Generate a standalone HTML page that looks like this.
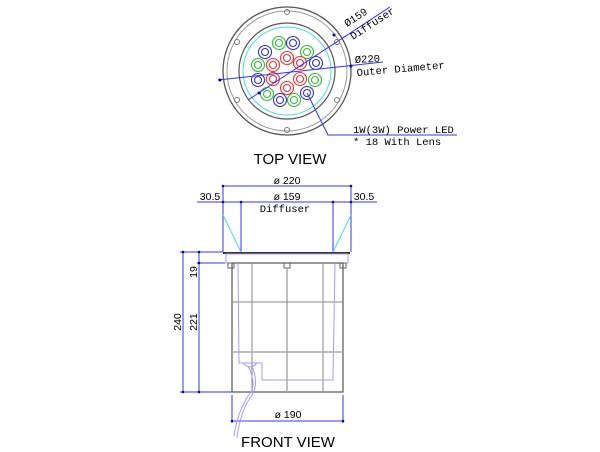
<!DOCTYPE html>
<html><head><style>html,body{margin:0;padding:0;background:#fff;}svg{display:block}</style></head><body>
<svg width="600" height="452" viewBox="0 0 600 452" xmlns="http://www.w3.org/2000/svg" font-family="'Liberation Mono', monospace">
<g fill="none">
<circle cx="287" cy="71" r="64" stroke="#555" stroke-width="1.3"/>
<circle cx="287" cy="71" r="60" stroke="#999" stroke-width="1"/>
<circle cx="287" cy="71" r="48" stroke="#555" stroke-width="1.2"/>
<circle cx="287" cy="71" r="44" stroke="#4dd" stroke-width="1"/>
<g stroke="#777" stroke-width="1">
<circle cx="287" cy="12" r="2.5"/><circle cx="287" cy="130" r="2.5"/>
<circle cx="237" cy="42" r="2.5"/><circle cx="337" cy="42" r="2.5"/>
<circle cx="237" cy="100" r="2.5"/><circle cx="337" cy="100" r="2.5"/>
</g>
<g stroke-width="1.1">
<g stroke="#33c">
<circle cx="265" cy="52" r="6.5"/><circle cx="265" cy="52" r="3.5"/>
<circle cx="293" cy="43" r="6.5"/><circle cx="293" cy="43" r="3.5"/>
<circle cx="316" cy="63" r="6.5"/><circle cx="316" cy="63" r="3.5"/>
<circle cx="258" cy="80" r="6.5"/><circle cx="258" cy="80" r="3.5"/>
<circle cx="280" cy="100" r="6.5"/><circle cx="280" cy="100" r="3.5"/>
<circle cx="307" cy="93" r="6.5"/><circle cx="307" cy="93" r="3.5"/>
</g>
<g stroke="#3b3">
<circle cx="279" cy="43" r="6.5"/><circle cx="279" cy="43" r="3.5"/>
<circle cx="307" cy="52" r="6.5"/><circle cx="307" cy="52" r="3.5"/>
<circle cx="258" cy="65" r="6.5"/><circle cx="258" cy="65" r="3.5"/>
<circle cx="315" cy="80" r="6.5"/><circle cx="315" cy="80" r="3.5"/>
<circle cx="267" cy="94" r="6.5"/><circle cx="267" cy="94" r="3.5"/>
<circle cx="294" cy="100" r="6.5"/><circle cx="294" cy="100" r="3.5"/>
</g>
<g stroke="#e33">
<circle cx="273" cy="65" r="6.5"/><circle cx="273" cy="65" r="3.5"/>
<circle cx="287" cy="58" r="6.5"/><circle cx="287" cy="58" r="3.5"/>
<circle cx="300" cy="63" r="6.5"/><circle cx="300" cy="63" r="3.5"/>
<circle cx="273" cy="79" r="6.5"/><circle cx="273" cy="79" r="3.5"/>
<circle cx="287" cy="88" r="6.5"/><circle cx="287" cy="88" r="3.5"/>
<circle cx="300" cy="79" r="6.5"/><circle cx="300" cy="79" r="3.5"/>
</g>
</g>
<g stroke="#33f" stroke-width="1">
<line x1="248" y1="100" x2="390" y2="7"/>
<line x1="218" y1="80" x2="383" y2="62"/>
<polyline points="307,93 328,135 457,135"/>
</g>
</g>
<g fill="#00c"><circle cx="259" cy="93" r="1.5"/><circle cx="334" cy="35" r="1.5"/><circle cx="220" cy="80" r="1.5"/><circle cx="351" cy="66" r="1.5"/></g>
<g fill="#000" font-size="10.5">
<text transform="translate(347,27) rotate(-33)">Ø159</text>
<text transform="translate(353,40) rotate(-33)">Diffuser</text>
<text x="355" y="63" transform="rotate(-3 355 63)">Ø220</text>
<text x="357" y="76" transform="rotate(-5 357 76)">Outer Diameter</text>
<text x="353" y="133">1W(3W) Power LED</text>
<text x="353" y="145">* 18 With Lens</text>
</g>
<text x="290" y="164" font-family="'Liberation Sans',sans-serif" font-size="15" text-anchor="middle">TOP  VIEW</text>

<g fill="none" stroke-width="1">
<g stroke="#33f">
<line x1="223" y1="186" x2="351" y2="186"/>
<line x1="197" y1="202" x2="377" y2="202"/>
<line x1="223" y1="186" x2="223" y2="252"/>
<line x1="351" y1="186" x2="351" y2="252"/>
<line x1="241" y1="202" x2="241" y2="252"/>
<line x1="333" y1="202" x2="333" y2="252"/>
<line x1="180" y1="252" x2="223" y2="252"/>
<line x1="197" y1="263" x2="225" y2="263"/>
<line x1="180" y1="392" x2="232" y2="392"/>
<line x1="183" y1="252" x2="183" y2="392"/>
<line x1="199" y1="252" x2="199" y2="392"/>
<line x1="232" y1="395" x2="232" y2="423"/>
<line x1="343" y1="395" x2="343" y2="423"/>
<line x1="232" y1="421" x2="343" y2="421"/>
</g>
<g stroke="#4dd"><line x1="223" y1="215" x2="241" y2="252"/><line x1="351" y1="215" x2="333" y2="252"/></g>
<line x1="223" y1="253" x2="350" y2="253" stroke="#333" stroke-width="2"/>
<rect x="226" y="254" width="122" height="9" stroke="#a9f"/>
<g stroke="#666"><rect x="228" y="263" width="6" height="5"/><rect x="284" y="263" width="6" height="5"/><rect x="340" y="263" width="6" height="5"/></g>
<rect x="232" y="263" width="111" height="129" stroke="#555" stroke-width="1.2"/>
<g stroke="#888"><line x1="252" y1="263" x2="252" y2="392"/><line x1="287" y1="268" x2="287" y2="392" stroke="#aaa" stroke-width="1.5"/><line x1="323" y1="263" x2="323" y2="392"/>
<line x1="232" y1="302" x2="343" y2="302"/><line x1="232" y1="352" x2="343" y2="352" stroke="#aaa" stroke-width="1.5"/></g>
<g stroke="#a9f">
<polyline points="238,263 239,363 262,363 262,380 333,380 335,263"/>
<path d="M248 366 q10 20 0 30 q-10 15 -14 40"/>
<path d="M252 366 q8 20 -2 32 q-10 15 -13 40"/>
<path d="M243 363 q7 8 14 0"/>
</g>
</g>
<g fill="#00c">
<circle cx="223" cy="186" r="1.3"/><circle cx="351" cy="186" r="1.3"/><circle cx="223" cy="202" r="1.3"/><circle cx="351" cy="202" r="1.3"/><circle cx="241" cy="202" r="1.3"/><circle cx="333" cy="202" r="1.3"/>
<circle cx="183" cy="252" r="1.3"/><circle cx="183" cy="392" r="1.3"/><circle cx="199" cy="252" r="1.3"/><circle cx="199" cy="263" r="1.3"/><circle cx="199" cy="392" r="1.3"/><circle cx="232" cy="421" r="1.3"/><circle cx="343" cy="421" r="1.3"/>
</g>
<g fill="#000" font-family="'Liberation Sans',sans-serif" font-size="10.5">
<text x="287" y="184" text-anchor="middle">ø 220</text>
<text x="287" y="200" text-anchor="middle">ø 159</text>
<text x="210" y="200" text-anchor="middle">30.5</text>
<text x="364" y="200" text-anchor="middle">30.5</text>
<text x="181" y="322" transform="rotate(-90 181 322)" text-anchor="middle">240</text>
<text x="197" y="322" transform="rotate(-90 197 322)" text-anchor="middle">221</text>
<text x="197" y="272" transform="rotate(-90 197 272)" text-anchor="middle">19</text>
<text x="288" y="418" text-anchor="middle">ø 190</text>
</g>
<text x="285" y="212" font-size="10.5" text-anchor="middle">Diffuser</text>
<text x="288" y="447" font-family="'Liberation Sans',sans-serif" font-size="15" text-anchor="middle">FRONT  VIEW</text>
</svg>
</body></html>
